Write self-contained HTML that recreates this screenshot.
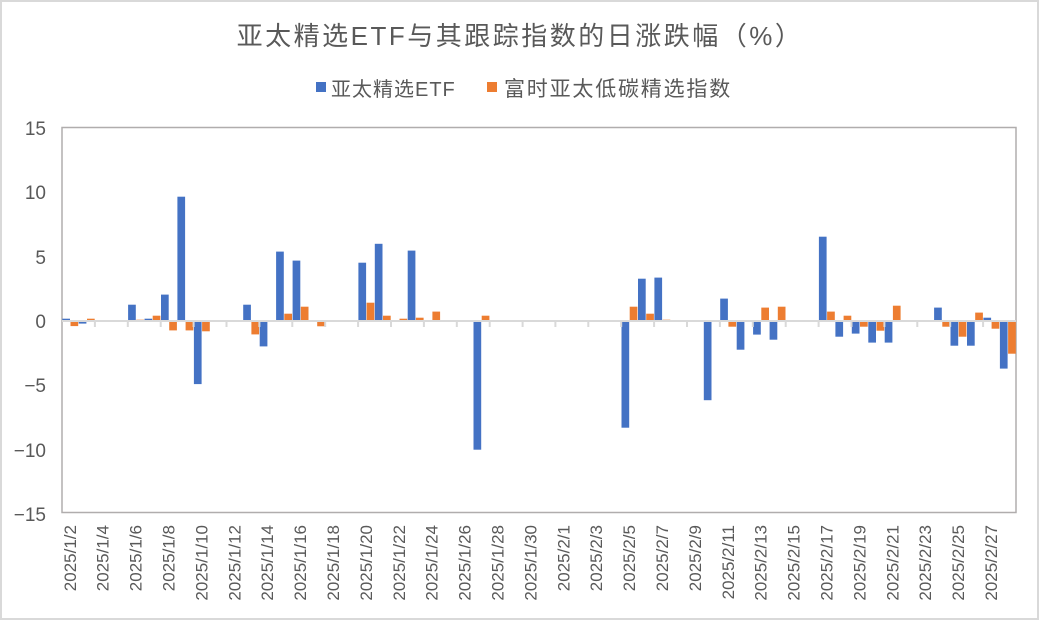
<!DOCTYPE html>
<html><head><meta charset="utf-8"><style>
body{margin:0;background:#fff}
svg{display:block;font-family:"Liberation Sans","Noto Sans CJK SC",sans-serif}
</style></head><body>
<svg width="1040" height="621" viewBox="0 0 1040 621" xmlns="http://www.w3.org/2000/svg">
<rect x="1" y="1" width="1037" height="618" fill="#fff" stroke="#d9d9d9" stroke-width="2"/>
<text x="520" y="45" font-size="26" letter-spacing="2.5" fill="#595959" text-anchor="middle">亚太精选ETF与其跟踪指数的日涨跌幅（%）</text>
<rect x="316" y="82" width="10" height="10" fill="#4472c4"/>
<text x="331" y="96" font-size="20" letter-spacing="1" fill="#595959">亚太精选ETF</text>
<rect x="487" y="82" width="10" height="10" fill="#ed7d31"/>
<text x="504" y="96" font-size="21" letter-spacing="1.8" fill="#595959">富时亚太低碳精选指数</text>
<rect x="62" y="127.5" width="954" height="385" fill="none" stroke="#b0adad" stroke-width="1.5"/>
<g font-size="19" fill="#595959" text-anchor="end">
<text x="46" y="135">15</text><text x="46" y="199">10</text><text x="46" y="264">5</text>
<text x="46" y="328">0</text><text x="46" y="392">−5</text><text x="46" y="457">−10</text><text x="46" y="521">−15</text>
</g>
<g fill="#4472c4">
<rect x="62.3" y="318.7" width="7.7" height="2.3"/>
<rect x="78.7" y="321" width="7.7" height="2.6"/>
<rect x="128.1" y="304.7" width="7.7" height="16.3"/>
<rect x="144.5" y="318.7" width="7.7" height="2.3"/>
<rect x="161.0" y="294.6" width="7.7" height="26.4"/>
<rect x="177.4" y="196.7" width="7.7" height="124.3"/>
<rect x="193.9" y="321" width="7.7" height="63.1"/>
<rect x="243.2" y="304.7" width="7.7" height="16.3"/>
<rect x="259.7" y="321" width="7.7" height="25.4"/>
<rect x="276.1" y="251.6" width="7.7" height="69.4"/>
<rect x="292.6" y="260.6" width="7.7" height="60.4"/>
<rect x="358.4" y="262.7" width="7.7" height="58.3"/>
<rect x="374.8" y="243.8" width="7.7" height="77.2"/>
<rect x="407.7" y="250.6" width="7.7" height="70.4"/>
<rect x="473.5" y="321" width="7.7" height="128.7"/>
<rect x="621.5" y="321" width="7.7" height="106.7"/>
<rect x="638.0" y="278.7" width="7.7" height="42.3"/>
<rect x="654.4" y="277.6" width="7.7" height="43.4"/>
<rect x="703.8" y="321" width="7.7" height="79.2"/>
<rect x="720.2" y="298.6" width="7.7" height="22.4"/>
<rect x="736.7" y="321" width="7.7" height="28.7"/>
<rect x="753.1" y="321" width="7.7" height="13.6"/>
<rect x="769.6" y="321" width="7.7" height="18.7"/>
<rect x="818.9" y="236.7" width="7.7" height="84.3"/>
<rect x="835.4" y="321" width="7.7" height="15.7"/>
<rect x="851.8" y="321" width="7.7" height="12.6"/>
<rect x="868.3" y="321" width="7.7" height="21.6"/>
<rect x="884.7" y="321" width="7.7" height="21.6"/>
<rect x="934.1" y="307.6" width="7.7" height="13.4"/>
<rect x="950.5" y="321" width="7.7" height="24.7"/>
<rect x="967.0" y="321" width="7.7" height="24.7"/>
<rect x="983.4" y="317.7" width="7.7" height="3.3"/>
<rect x="999.9" y="321" width="7.7" height="47.6"/>
</g>
<g fill="#ed7d31">
<rect x="70.5" y="321" width="7.7" height="5.1"/>
<rect x="87.0" y="318.7" width="7.7" height="2.3"/>
<rect x="136.3" y="319.7" width="7.7" height="1.3"/>
<rect x="152.7" y="315.7" width="7.7" height="5.3"/>
<rect x="169.2" y="321" width="7.7" height="9.4"/>
<rect x="185.6" y="321" width="7.7" height="9.4"/>
<rect x="202.1" y="321" width="7.7" height="10.3"/>
<rect x="251.4" y="321" width="7.7" height="13.4"/>
<rect x="284.3" y="313.7" width="7.7" height="7.3"/>
<rect x="300.8" y="306.7" width="7.7" height="14.3"/>
<rect x="317.2" y="321" width="7.7" height="5.3"/>
<rect x="366.6" y="302.7" width="7.7" height="18.3"/>
<rect x="383.0" y="315.7" width="7.7" height="5.3"/>
<rect x="399.5" y="318.7" width="7.7" height="2.3"/>
<rect x="415.9" y="317.7" width="7.7" height="3.3"/>
<rect x="432.4" y="311.6" width="7.7" height="9.4"/>
<rect x="481.7" y="315.7" width="7.7" height="5.3"/>
<rect x="629.7" y="306.7" width="7.7" height="14.3"/>
<rect x="646.2" y="313.7" width="7.7" height="7.3"/>
<rect x="662.6" y="319.7" width="7.7" height="1.3"/>
<rect x="728.4" y="321" width="7.7" height="5.7"/>
<rect x="761.3" y="307.6" width="7.7" height="13.4"/>
<rect x="777.8" y="306.7" width="7.7" height="14.3"/>
<rect x="827.1" y="311.6" width="7.7" height="9.4"/>
<rect x="843.6" y="315.7" width="7.7" height="5.3"/>
<rect x="860.0" y="321" width="7.7" height="5.7"/>
<rect x="876.5" y="321" width="7.7" height="9.7"/>
<rect x="892.9" y="305.7" width="7.7" height="15.3"/>
<rect x="942.3" y="321" width="7.7" height="5.7"/>
<rect x="958.7" y="321" width="7.7" height="15.7"/>
<rect x="975.2" y="312.6" width="7.7" height="8.4"/>
<rect x="991.6" y="321" width="7.7" height="7.7"/>
<rect x="1008.1" y="321" width="7.7" height="32.7"/>
</g>
<line x1="62" y1="321" x2="1016" y2="321" stroke="#d9d9d9" stroke-width="2"/>
<path stroke="#d9d9d9" stroke-width="2" d="M94.9 321v6M127.8 321v6M160.7 321v6M193.6 321v6M226.5 321v6M259.4 321v6M292.3 321v6M325.2 321v6M358.1 321v6M391 321v6M423.9 321v6M456.8 321v6M489.7 321v6M522.6 321v6M555.4 321v6M588.3 321v6M621.2 321v6M654.1 321v6M687 321v6M719.9 321v6M752.8 321v6M785.7 321v6M818.6 321v6M851.5 321v6M884.4 321v6M917.3 321v6M950.2 321v6M983.1 321v6"/>
<g font-size="17" fill="#595959" text-anchor="end">
<text transform="translate(75.8,525) rotate(-90)">2025/1/2</text>
<text transform="translate(108.7,525) rotate(-90)">2025/1/4</text>
<text transform="translate(141.6,525) rotate(-90)">2025/1/6</text>
<text transform="translate(174.5,525) rotate(-90)">2025/1/8</text>
<text transform="translate(207.4,525) rotate(-90)">2025/1/10</text>
<text transform="translate(240.3,525) rotate(-90)">2025/1/12</text>
<text transform="translate(273.2,525) rotate(-90)">2025/1/14</text>
<text transform="translate(306.1,525) rotate(-90)">2025/1/16</text>
<text transform="translate(339.0,525) rotate(-90)">2025/1/18</text>
<text transform="translate(371.9,525) rotate(-90)">2025/1/20</text>
<text transform="translate(404.8,525) rotate(-90)">2025/1/22</text>
<text transform="translate(437.7,525) rotate(-90)">2025/1/24</text>
<text transform="translate(470.6,525) rotate(-90)">2025/1/26</text>
<text transform="translate(503.5,525) rotate(-90)">2025/1/28</text>
<text transform="translate(536.4,525) rotate(-90)">2025/1/30</text>
<text transform="translate(569.3,525) rotate(-90)">2025/2/1</text>
<text transform="translate(602.2,525) rotate(-90)">2025/2/3</text>
<text transform="translate(635.1,525) rotate(-90)">2025/2/5</text>
<text transform="translate(668.0,525) rotate(-90)">2025/2/7</text>
<text transform="translate(700.9,525) rotate(-90)">2025/2/9</text>
<text transform="translate(733.8,525) rotate(-90)">2025/2/11</text>
<text transform="translate(766.7,525) rotate(-90)">2025/2/13</text>
<text transform="translate(799.6,525) rotate(-90)">2025/2/15</text>
<text transform="translate(832.5,525) rotate(-90)">2025/2/17</text>
<text transform="translate(865.4,525) rotate(-90)">2025/2/19</text>
<text transform="translate(898.3,525) rotate(-90)">2025/2/21</text>
<text transform="translate(931.2,525) rotate(-90)">2025/2/23</text>
<text transform="translate(964.1,525) rotate(-90)">2025/2/25</text>
<text transform="translate(997.0,525) rotate(-90)">2025/2/27</text>
</g>
</svg>
</body></html>
